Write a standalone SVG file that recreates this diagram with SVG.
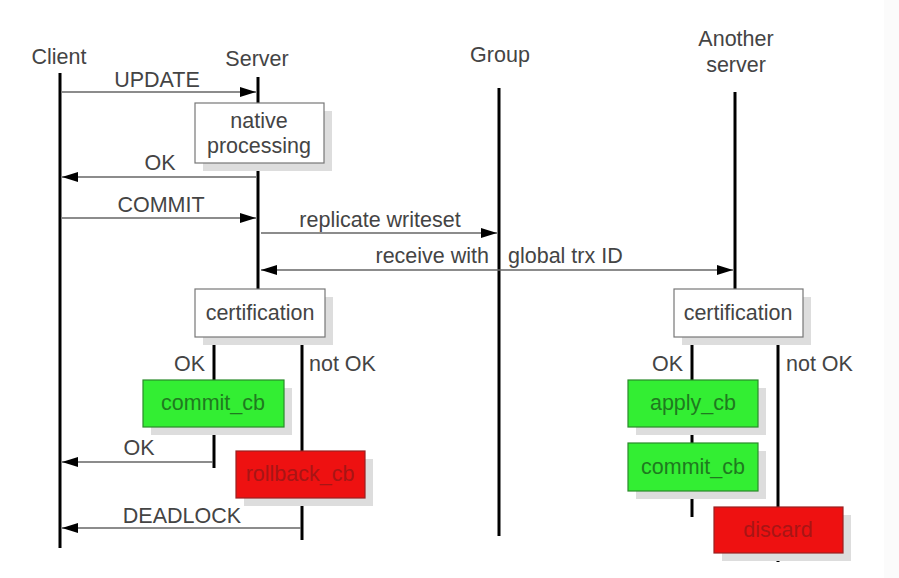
<svg xmlns="http://www.w3.org/2000/svg" width="899" height="578" viewBox="0 0 899 578">
<style>
text{font-family:"Liberation Sans",Arial,sans-serif;font-size:21.5px;fill:#444}
.life{stroke:#000;stroke-width:3;fill:none}
.msg{stroke:#666;stroke-width:1.3;fill:none}
.box{fill:#fff;stroke:#777;stroke-width:1.2}
.sh{fill:#ddd}
.g{fill:#33ee33;stroke:#2a8a2a;stroke-width:1.2}
.r{fill:#ee1111;stroke:#992222;stroke-width:1.2}
.gt{fill:#1f7a1f}
.rt{fill:#a81515}
</style>
<defs>
<marker id="ah" viewBox="0 0 16 10" refX="16" refY="5" markerWidth="16" markerHeight="10" markerUnits="userSpaceOnUse" orient="auto-start-reverse">
<path d="M0,0 L16,5 L0,10 z" fill="#000"/>
</marker>
</defs>
<rect width="899" height="578" fill="#fff"/>
<rect x="884" y="0" width="15" height="578" fill="#fbfbfb"/>
<g id="lifelines">
<line class="life" x1="60" y1="73" x2="60" y2="548"/>
<line class="life" x1="258" y1="77" x2="258" y2="290"/>
<line class="life" x1="499" y1="88" x2="499" y2="536"/>
<line class="life" x1="735" y1="92" x2="735" y2="290"/>
<line class="life" x1="214" y1="337" x2="214" y2="380"/>
<line class="life" x1="214" y1="427" x2="214" y2="468"/>
<line class="life" x1="302" y1="337" x2="302" y2="451"/>
<line class="life" x1="302" y1="498" x2="302" y2="540"/>
<line class="life" x1="692" y1="337" x2="692" y2="380"/>
<line class="life" x1="692" y1="427" x2="692" y2="443"/>
<line class="life" x1="692" y1="491" x2="692" y2="517"/>
<line class="life" x1="778" y1="337" x2="778" y2="507"/>
<line class="life" x1="778" y1="553" x2="778" y2="562"/>
</g>
<g id="labels">
<text x="59" y="64" text-anchor="middle">Client</text>
<text x="257" y="66" text-anchor="middle">Server</text>
<text x="500" y="62" text-anchor="middle">Group</text>
<text x="736" y="46" text-anchor="middle">Another</text>
<text x="736" y="72" text-anchor="middle">server</text>
</g>
<g id="connectors">
<line class="msg" x1="62" y1="92" x2="256" y2="92" marker-end="url(#ah)"/>
<text x="157" y="87" text-anchor="middle">UPDATE</text>
<line class="msg" x1="256" y1="177" x2="62" y2="177" marker-end="url(#ah)"/>
<text x="160" y="170" text-anchor="middle">OK</text>
<line class="msg" x1="62" y1="218" x2="256" y2="218" marker-end="url(#ah)"/>
<text x="161" y="212" text-anchor="middle">COMMIT</text>
<line class="msg" x1="261" y1="233" x2="497" y2="233" marker-end="url(#ah)"/>
<text x="380" y="227" text-anchor="middle">replicate writeset</text>
<line class="msg" x1="261" y1="270" x2="733" y2="270" marker-start="url(#ah)" marker-end="url(#ah)"/>
<text x="489" y="263" text-anchor="end">receive with</text>
<text x="508" y="263">global trx ID</text>
<text x="205" y="371" text-anchor="end">OK</text>
<text x="309" y="371">not OK</text>
<line class="msg" x1="213" y1="462" x2="62" y2="462" marker-end="url(#ah)"/>
<text x="139" y="455" text-anchor="middle">OK</text>
<line class="msg" x1="301" y1="528" x2="62" y2="528" marker-end="url(#ah)"/>
<text x="182" y="523" text-anchor="middle">DEADLOCK</text>
<text x="683" y="371" text-anchor="end">OK</text>
<text x="786" y="371">not OK</text>
</g>
<g id="native">
<rect class="sh" x="203" y="111" width="129" height="60"/>
<rect class="box" x="195" y="103" width="129" height="60"/>
<text x="259" y="128" text-anchor="middle">native</text>
<text x="259" y="153" text-anchor="middle">processing</text>
</g>
<g id="cert1">
<rect class="sh" x="203" y="297" width="130" height="48"/>
<rect class="box" x="195" y="289" width="130" height="48"/>
<text x="260" y="320" text-anchor="middle">certification</text>
</g>
<g id="commit1">
<rect class="sh" x="151" y="388" width="141" height="47"/>
<rect class="g" x="143" y="380" width="141" height="47"/>
<text class="gt" x="213" y="410" text-anchor="middle">commit_cb</text>
</g>
<g id="rollback">
<rect class="sh" x="244" y="459" width="129" height="47"/>
<rect class="r" x="236" y="451" width="129" height="47"/>
<text class="rt" x="300" y="481" text-anchor="middle">rollback_cb</text>
</g>
<g id="cert2">
<rect class="sh" x="682" y="297" width="129" height="48"/>
<rect class="box" x="674" y="289" width="129" height="48"/>
<text x="738" y="320" text-anchor="middle">certification</text>
</g>
<g id="apply">
<rect class="sh" x="636" y="388" width="130" height="47"/>
<rect class="g" x="628" y="380" width="130" height="47"/>
<text class="gt" x="693" y="410" text-anchor="middle">apply_cb</text>
</g>
<g id="commit2">
<rect class="sh" x="636" y="451" width="130" height="48"/>
<rect class="g" x="628" y="443" width="130" height="48"/>
<text class="gt" x="693" y="474" text-anchor="middle">commit_cb</text>
</g>
<g id="discard">
<rect class="sh" x="722" y="515" width="129" height="46"/>
<rect class="r" x="714" y="507" width="129" height="46"/>
<text class="rt" x="778" y="537" text-anchor="middle">discard</text>
</g>
</svg>
